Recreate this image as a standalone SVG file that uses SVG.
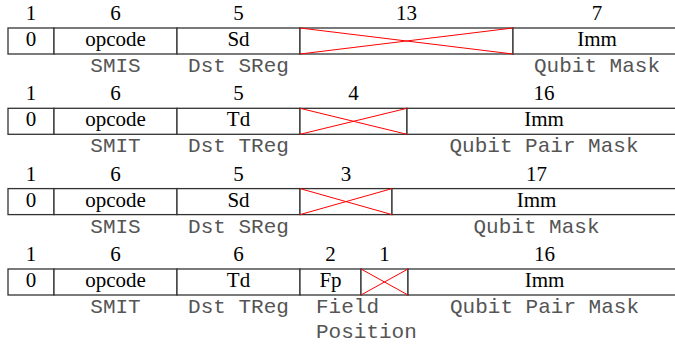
<svg xmlns="http://www.w3.org/2000/svg" width="675" height="345" viewBox="0 0 675 345">
  <style>
    .box { fill: #fff; stroke: #333; stroke-width: 1.3; }
    .x { stroke: #ff0000; stroke-width: 1; fill: none; }
    .num { font-family: "Liberation Serif", "Times New Roman", serif; font-size: 21px; text-anchor: middle; fill: #000; }
    .fld { font-family: "Liberation Serif", "Times New Roman", serif; font-size: 21px; text-anchor: middle; fill: #000; }
    .desc { font-family: "Liberation Mono", "Courier New", monospace; font-size: 21px; text-anchor: middle; fill: #555; }
    .descl { font-family: "Liberation Mono", "Courier New", monospace; font-size: 21px; fill: #555; }
  </style>

  <!-- SMIS: 1 | 6 | 5 | 13 | 7 -->
  <g id="smis-13" transform="translate(0,0)">
    <text class="num" x="31" y="20">1</text>
    <text class="num" x="115.5" y="20">6</text>
    <text class="num" x="238.5" y="20">5</text>
    <text class="num" x="406.5" y="20">13</text>
    <text class="num" x="597" y="20">7</text>
    <rect class="box" x="8" y="28" width="46" height="26"/>
    <rect class="box" x="54" y="28" width="123" height="26"/>
    <rect class="box" x="177" y="28" width="123" height="26"/>
    <rect class="box" x="300" y="28" width="213" height="26"/>
    <rect class="box" x="513" y="28" width="168" height="26"/>
    <path class="x" d="M300,28 L513,54 M300,54 L513,28"/>
    <text class="fld" x="31" y="46">0</text>
    <text class="fld" x="115.5" y="46">opcode</text>
    <text class="fld" x="238.5" y="46">Sd</text>
    <text class="fld" x="597" y="46">Imm</text>
    <text class="desc" x="115.5" y="72">SMIS</text>
    <text class="desc" x="238.5" y="72">Dst SReg</text>
    <text class="desc" x="597" y="72">Qubit Mask</text>
  </g>

  <!-- SMIT: 1 | 6 | 5 | 4 | 16 -->
  <g id="smit-4" transform="translate(0,80.3)">
    <text class="num" x="31" y="20">1</text>
    <text class="num" x="115.5" y="20">6</text>
    <text class="num" x="238.5" y="20">5</text>
    <text class="num" x="353.5" y="20">4</text>
    <text class="num" x="544" y="20">16</text>
    <rect class="box" x="8" y="28" width="46" height="26"/>
    <rect class="box" x="54" y="28" width="123" height="26"/>
    <rect class="box" x="177" y="28" width="123" height="26"/>
    <rect class="box" x="300" y="28" width="107" height="26"/>
    <rect class="box" x="407" y="28" width="274" height="26"/>
    <path class="x" d="M300,28 L407,54 M300,54 L407,28"/>
    <text class="fld" x="31" y="46">0</text>
    <text class="fld" x="115.5" y="46">opcode</text>
    <text class="fld" x="238.5" y="46">Td</text>
    <text class="fld" x="544" y="46">Imm</text>
    <text class="desc" x="115.5" y="72">SMIT</text>
    <text class="desc" x="238.5" y="72">Dst TReg</text>
    <text class="desc" x="544" y="72">Qubit Pair Mask</text>
  </g>

  <!-- SMIS: 1 | 6 | 5 | 3 | 17 -->
  <g id="smis-3" transform="translate(0,160.6)">
    <text class="num" x="31" y="20">1</text>
    <text class="num" x="115.5" y="20">6</text>
    <text class="num" x="238.5" y="20">5</text>
    <text class="num" x="346" y="20">3</text>
    <text class="num" x="536.5" y="20">17</text>
    <rect class="box" x="8" y="28" width="46" height="26"/>
    <rect class="box" x="54" y="28" width="123" height="26"/>
    <rect class="box" x="177" y="28" width="123" height="26"/>
    <rect class="box" x="300" y="28" width="92" height="26"/>
    <rect class="box" x="392" y="28" width="289" height="26"/>
    <path class="x" d="M300,28 L392,54 M300,54 L392,28"/>
    <text class="fld" x="31" y="46">0</text>
    <text class="fld" x="115.5" y="46">opcode</text>
    <text class="fld" x="238.5" y="46">Sd</text>
    <text class="fld" x="536.5" y="46">Imm</text>
    <text class="desc" x="115.5" y="72">SMIS</text>
    <text class="desc" x="238.5" y="72">Dst SReg</text>
    <text class="desc" x="536.5" y="72">Qubit Mask</text>
  </g>

  <!-- SMIT: 1 | 6 | 6 | 2 | 1 | 16 -->
  <g id="smit-fp" transform="translate(0,241)">
    <text class="num" x="31" y="20">1</text>
    <text class="num" x="115.5" y="20">6</text>
    <text class="num" x="238.5" y="20">6</text>
    <text class="num" x="330.5" y="20">2</text>
    <text class="num" x="384.5" y="20">1</text>
    <text class="num" x="544.5" y="20">16</text>
    <rect class="box" x="8" y="28" width="46" height="26"/>
    <rect class="box" x="54" y="28" width="123" height="26"/>
    <rect class="box" x="177" y="28" width="123" height="26"/>
    <rect class="box" x="300" y="28" width="61" height="26"/>
    <rect class="box" x="361" y="28" width="47" height="26"/>
    <rect class="box" x="408" y="28" width="273" height="26"/>
    <path class="x" d="M361,28 L408,54 M361,54 L408,28"/>
    <text class="fld" x="31" y="46">0</text>
    <text class="fld" x="115.5" y="46">opcode</text>
    <text class="fld" x="238.5" y="46">Td</text>
    <text class="fld" x="330.5" y="46">Fp</text>
    <text class="fld" x="544.5" y="46">Imm</text>
    <text class="desc" x="115.5" y="72">SMIT</text>
    <text class="desc" x="238.5" y="72">Dst TReg</text>
    <text class="descl" x="316" y="72">Field</text>
    <text class="descl" x="316" y="96.5">Position</text>
    <text class="desc" x="544.5" y="72">Qubit Pair Mask</text>
  </g>
</svg>
